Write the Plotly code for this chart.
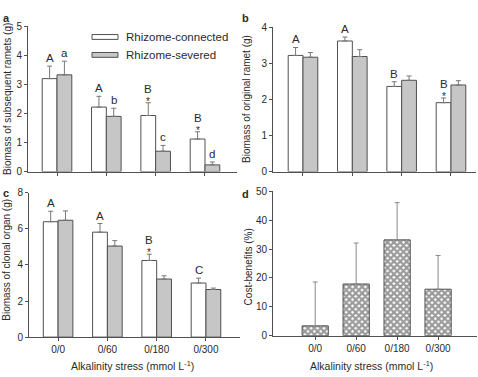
import plotly.graph_objects as go

W, H = 478, 377
categories = ["0/0", "0/60", "0/180", "0/300"]

# Panel a: biomass of subsequent ramets (g)
a_conn = [3.2, 2.22, 1.93, 1.12]
a_conn_err = [0.43, 0.37, 0.44, 0.25]
a_sev = [3.33, 1.9, 0.7, 0.23]
a_sev_err = [0.47, 0.28, 0.2, 0.1]
a_conn_lab = ["A", "A", "B", "B"]
a_conn_star = [False, False, True, True]
a_sev_lab = ["a", "b", "c", "d"]

# Panel b: biomass of original ramet (g)
b_conn = [3.22, 3.62, 2.36, 1.91]
b_conn_err = [0.22, 0.11, 0.13, 0.13]
b_sev = [3.17, 3.19, 2.53, 2.4]
b_sev_err = [0.13, 0.19, 0.12, 0.12]
b_conn_lab = ["A", "A", "B", "B"]
b_conn_star = [False, False, False, True]

# Panel c: biomass of clonal organ (g)
c_conn = [6.4, 5.82, 4.25, 3.0]
c_conn_err = [0.58, 0.48, 0.35, 0.27]
c_sev = [6.48, 5.05, 3.22, 2.64]
c_sev_err = [0.52, 0.3, 0.18, 0.08]
c_conn_lab = ["A", "A", "B", "C"]
c_conn_star = [False, False, True, False]

# Panel d: cost-benefits (%)
d_val = [3.4, 17.9, 33.2, 16.1]
d_err = [15.2, 14.2, 12.9, 11.7]

LINE = "#505050"
TXT = "#2a2a2a"
FONT = "Liberation Sans, Arial, sans-serif"
GREY = "#c6c6c6"

xs = list(range(len(categories)))
fig = go.Figure()


def px_x(p):
    return p / W


def px_y(p):
    return 1 - p / H


def add_pair(conn, conn_err, sev, sev_err, ax):
    xa, ya = ax
    for vals, errs, fill, off in ((conn, conn_err, "white", -0.3), (sev, sev_err, GREY, 0.0)):
        fig.add_trace(go.Bar(
            x=xs, y=vals, width=0.3, offset=off,
            marker=dict(color=fill, line=dict(color=LINE, width=1)),
            error_y=dict(type="data", array=errs, arrayminus=[0] * len(errs), symmetric=False,
                         color="#777777", thickness=1, width=2.5),
            xaxis=xa, yaxis=ya, showlegend=False))


add_pair(a_conn, a_conn_err, a_sev, a_sev_err, ("x", "y"))
add_pair(b_conn, b_conn_err, b_sev, b_sev_err, ("x2", "y2"))
add_pair(c_conn, c_conn_err, c_sev, c_sev_err, ("x3", "y3"))

fig.add_trace(go.Bar(
    x=xs, y=d_val, width=0.64,
    marker=dict(color="white", line=dict(color=LINE, width=1),
                pattern=dict(shape="x", size=4.5, solidity=0.72, fgcolor="#333333", bgcolor="white")),
    error_y=dict(type="data", array=d_err, arrayminus=[0] * 4, symmetric=False,
                 color="#888888", thickness=1, width=2.5),
    xaxis="x4", yaxis="y4", showlegend=False))

annotations = []


def letters(vals, errs, labs, stars, shift, xr, yr):
    for i, (v, e, lab) in enumerate(zip(vals, errs, labs)):
        top = v + e
        st = stars[i] if stars else False
        if st:
            annotations.append(dict(x=i + shift, y=top, xref=xr, yref=yr, text="*", showarrow=False,
                                    yanchor="bottom", yshift=-6, font=dict(size=10, color=TXT, family=FONT)))
        annotations.append(dict(x=i + shift, y=top, xref=xr, yref=yr, text=lab, showarrow=False,
                                yanchor="bottom", yshift=(6 if st else 0),
                                font=dict(size=11.5, color=TXT, family=FONT)))


letters(a_conn, a_conn_err, a_conn_lab, a_conn_star, -0.15, "x", "y")
letters(a_sev, a_sev_err, a_sev_lab, None, 0.15, "x", "y")
letters(b_conn, b_conn_err, b_conn_lab, b_conn_star, -0.15, "x2", "y2")
letters(c_conn, c_conn_err, c_conn_lab, c_conn_star, -0.15, "x3", "y3")

# panel letters
for t, x, y in (("a", 6, 12), ("b", 245, 12), ("c", 6, 193), ("d", 245, 194)):
    annotations.append(dict(x=px_x(x), y=px_y(y), xref="paper", yref="paper", text="<b>%s</b>" % t,
                            showarrow=False, xanchor="center", yanchor="middle",
                            font=dict(size=11, color=TXT, family=FONT)))

# y-axis titles
for t, x, y in (("Biomass of subsequent ramets (g)", 8, 96),
                ("Biomass of original ramet (g)", 247, 96),
                ("Biomass of clonal organ (g)", 7, 262),
                ("Cost-benefits (%)", 248, 270)):
    annotations.append(dict(x=px_x(x), y=px_y(y), xref="paper", yref="paper", text=t, textangle=-90,
                            showarrow=False, xanchor="center", yanchor="middle",
                            font=dict(size=10, color=TXT, family=FONT)))

# x-axis titles
for x in (132, 371):
    annotations.append(dict(x=px_x(x), y=px_y(371), xref="paper", yref="paper",
                            text="Alkalinity stress (mmol L<sup>-1</sup>)", showarrow=False,
                            xanchor="center", yanchor="middle", font=dict(size=10.5, color=TXT, family=FONT)))

# legend
shapes = []
for t, y, fill in (("Rhizome-connected", 32, "white"), ("Rhizome-severed", 50.5, GREY)):
    shapes.append(dict(type="rect", xref="paper", yref="paper", x0=px_x(92), x1=px_x(118),
                       y0=px_y(y - 2.5), y1=px_y(y + 2.5), fillcolor=fill, line=dict(color=LINE, width=1)))
    annotations.append(dict(x=px_x(124), y=px_y(y), xref="paper", yref="paper", text=t, showarrow=False,
                            xanchor="left", yanchor="middle", font=dict(size=11.5, color=TXT, family=FONT)))


def xaxis(dom, rng, anchor, labels):
    return dict(domain=[px_x(dom[0]), px_x(dom[1])], range=rng, anchor=anchor,
                tickvals=xs, ticktext=categories, showticklabels=labels, ticks="outside", ticklen=3,
                tickcolor=LINE, showline=True, linecolor=LINE, linewidth=1, showgrid=False, zeroline=False,
                tickfont=dict(size=10, color=TXT, family=FONT))


def yaxis(dom, rng, dt, anchor):
    return dict(domain=[px_y(dom[0]), px_y(dom[1])], range=rng, dtick=dt, anchor=anchor,
                ticks="outside", ticklen=3, tickcolor=LINE, showline=True, linecolor=LINE, linewidth=1,
                showgrid=False, zeroline=False, tickfont=dict(size=10, color=TXT, family=FONT))


fig.update_layout(
    width=W, height=H, margin=dict(l=0, r=0, t=0, b=0),
    paper_bgcolor="white", plot_bgcolor="white", barmode="overlay",
    xaxis=xaxis((28, 237), [-0.588, 3.649], "y", False),
    yaxis=yaxis((171, 21), [0, 5], 1, "x"),
    xaxis2=xaxis((273, 476), [-0.608, 3.507], "y2", False),
    yaxis2=yaxis((171, 22), [0, 4], 1, "x2"),
    xaxis3=xaxis((29, 240), [-0.59, 3.69], "y3", True),
    yaxis3=yaxis((342, 193), [0, 8], 2, "x3"),
    xaxis4=xaxis((273, 477), [-1.03, 3.95], "y4", True),
    yaxis4=yaxis((340.5, 191.5), [0, 50], 10, "x4"),
    annotations=annotations, shapes=shapes,
)

fig.write_html("out.html")
